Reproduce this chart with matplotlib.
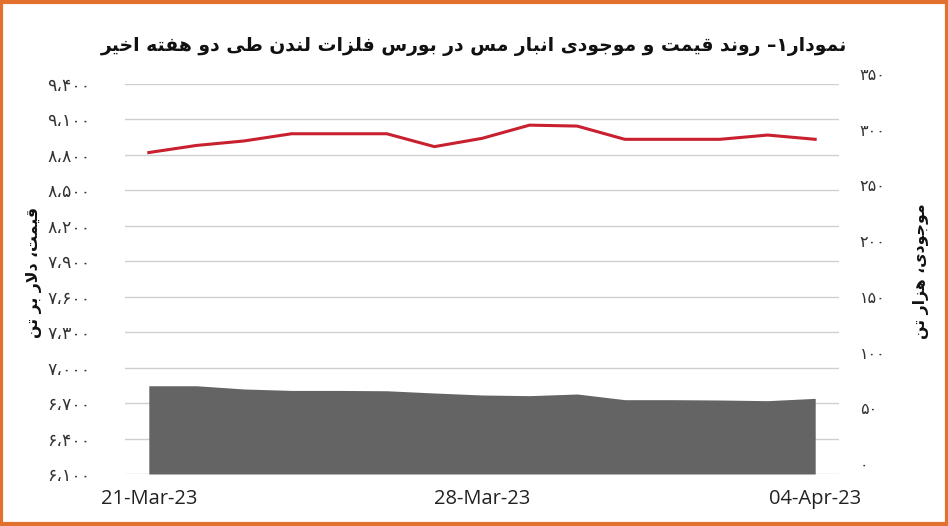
import matplotlib
matplotlib.use("Agg")
import matplotlib.pyplot as plt
from matplotlib.patches import Rectangle
from matplotlib.transforms import ScaledTranslation

# ---------------- data ----------------
dates = ['21-Mar-23', '22-Mar-23', '23-Mar-23', '24-Mar-23', '25-Mar-23',
         '26-Mar-23', '27-Mar-23', '28-Mar-23', '29-Mar-23', '30-Mar-23',
         '31-Mar-23', '01-Apr-23', '02-Apr-23', '03-Apr-23', '04-Apr-23']
price = [8820, 8880, 8918, 8979, 8979, 8979, 8870, 8940, 9052, 9044,
         8932, 8932, 8932, 8968, 8932]
stock = [79.2, 79.2, 76.3, 75.0, 75.0, 74.7, 72.7, 70.9, 70.3, 71.8,
         66.7, 66.7, 66.4, 65.8, 67.9]
xtick_idx = [0, 7, 14]
xtick_labels = ['21-Mar-23', '28-Mar-23', '04-Apr-23']
left_ticks = [6100, 6400, 6700, 7000, 7300, 7600, 7900, 8200, 8500, 8800, 9100, 9400]
left_tick_labels = ['۶،۱۰۰', '۶،۴۰۰', '۶،۷۰۰', '۷،۰۰۰', '۷،۳۰۰', '۷،۶۰۰',
                    '۷،۹۰۰', '۸،۲۰۰', '۸،۵۰۰', '۸،۸۰۰', '۹،۱۰۰', '۹،۴۰۰']
right_ticks = [0, 50, 100, 150, 200, 250, 300, 350]
right_tick_labels = ['۰', '۵۰', '۱۰۰', '۱۵۰', '۲۰۰', '۲۵۰', '۳۰۰', '۳۵۰']
title = 'نمودار۱– روند قیمت و موجودی انبار مس در بورس فلزات لندن طی دو هفته اخیر'
left_label = 'قیمت، دلار بر تن'
right_label = 'موجودی، هزار تن'

# ------------- simple Arabic/Persian shaping -------------
FORMS = {  # isolated, final, initial, medial
    'ا': (0xFE8D, 0xFE8E, None, None),
    'ب': (0xFE8F, 0xFE90, 0xFE91, 0xFE92),
    'ت': (0xFE95, 0xFE96, 0xFE97, 0xFE98),
    'ج': (0xFE9D, 0xFE9E, 0xFE9F, 0xFEA0),
    'خ': (0xFEA5, 0xFEA6, 0xFEA7, 0xFEA8),
    'د': (0xFEA9, 0xFEAA, None, None),
    'ر': (0xFEAD, 0xFEAE, None, None),
    'ز': (0xFEAF, 0xFEB0, None, None),
    'س': (0xFEB1, 0xFEB2, 0xFEB3, 0xFEB4),
    'ط': (0xFEC1, 0xFEC2, 0xFEC3, 0xFEC4),
    'ف': (0xFED1, 0xFED2, 0xFED3, 0xFED4),
    'ق': (0xFED5, 0xFED6, 0xFED7, 0xFED8),
    'ل': (0xFEDD, 0xFEDE, 0xFEDF, 0xFEE0),
    'م': (0xFEE1, 0xFEE2, 0xFEE3, 0xFEE4),
    'ن': (0xFEE5, 0xFEE6, 0xFEE7, 0xFEE8),
    'ه': (0xFEE9, 0xFEEA, 0xFEEB, 0xFEEC),
    'و': (0xFEED, 0xFEEE, None, None),
    'ی': (0xFEEF, 0xFEF0, 0xFEF3, 0xFEF4),
}


def dual(c):
    return c in FORMS and FORMS[c][2] is not None


def joins(c):
    return c in FORMS


def shape(text):
    out = []
    i = 0
    n = len(text)
    while i < n:
        c = text[i]
        prev = text[i - 1] if i > 0 else ''
        if c not in FORMS:
            out.append(c)
            i += 1
            continue
        con_prev = dual(prev)
        if c == 'ل' and i + 1 < n and text[i + 1] == 'ا':
            out.append(chr(0xFEFC if con_prev else 0xFEFB))
            i += 2
            continue
        nxt = text[i + 1] if i + 1 < n else ''
        con_next = dual(c) and joins(nxt)
        iso, fin, ini, med = FORMS[c]
        if con_prev and con_next:
            ch = med
        elif con_prev:
            ch = fin
        elif con_next:
            ch = ini
        else:
            ch = iso
        out.append(chr(ch))
        i += 1
    return ''.join(out)[::-1]


FA = ['DejaVu Sans']

# ---------------- figure ----------------
fig = plt.figure(figsize=(9.48, 5.26), dpi=100)
fig.patch.set_facecolor('white')
ax = fig.add_axes([125 / 948, 1 - 474 / 526, (839 - 125) / 948, (474 - 84) / 526])
ax2 = ax.twinx()

x = list(range(len(dates)))

ax.set_ylim(left_ticks[0], left_ticks[-1])
ax.grid(axis='y', color='#d0d0d0', linewidth=1.0)
ax.set_axisbelow(True)
ax.plot(x, price, color='#c8202e', linewidth=2.2, zorder=3)

ax2.fill_between(x, 0, stock, color='#646464', linewidth=0, zorder=2)
ax2.set_ylim(right_ticks[0], right_ticks[-1])

ax.set_xlim(-0.5, len(dates) - 0.5)

for a in (ax, ax2):
    for s in a.spines.values():
        s.set_visible(False)
    a.tick_params(length=0)
ax.tick_params(axis='y', pad=25)
ax2.tick_params(axis='y', pad=15)
ax.tick_params(axis='x', pad=11)

ax.set_yticks(left_ticks)
ax.set_yticklabels(left_tick_labels, family=FA, fontsize=12.5, color='#333333')
ax2.set_yticks(right_ticks)
ax2.set_yticklabels(right_tick_labels, family=FA, fontsize=11.5, color='#333333')
ax.set_xticks(xtick_idx)
ax.set_xticklabels(xtick_labels, family=['Open Sans'], fontsize=14.5, color='#222222')

shift = ScaledTranslation(0, 10 / 100, fig.dpi_scale_trans)
for lbl in ax2.get_yticklabels():
    lbl.set_transform(lbl.get_transform() + shift)

fig.text(0.5, 1 - 46 / 526, shape(title), family=FA, fontweight='bold',
         fontsize=13.5, ha='center', va='center', color='#111111')
fig.text(34 / 948, 1 - 272 / 526, shape(left_label), family=FA, fontweight='bold',
         fontsize=11.3, rotation=90, ha='center', va='center', color='#111111')
fig.text(921 / 948, 1 - 271 / 526, shape(right_label), family=FA, fontweight='bold',
         fontsize=11.3, rotation=90, ha='center', va='center', color='#111111')

fig.patches.append(Rectangle((0.0015, 0.003), 0.997, 0.994, transform=fig.transFigure,
                             fill=False, edgecolor='#e2702e', linewidth=3))

fig.savefig('out.png', dpi=100)
